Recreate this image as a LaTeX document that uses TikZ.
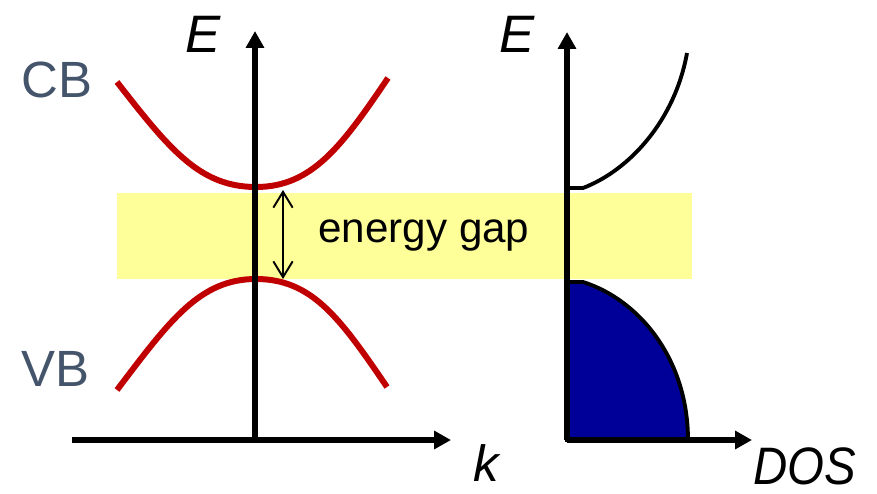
\documentclass[tikz,border=0pt]{standalone}
\usepackage{fontspec}
\setmainfont{Liberation Sans}
\usetikzlibrary{arrows.meta}
\definecolor{bandred}{HTML}{C00000}
\definecolor{gapyellow}{HTML}{FFFF99}
\definecolor{labelgrey}{HTML}{44546A}
\definecolor{dosblue}{HTML}{000099}
\begin{document}
\begin{tikzpicture}[
	x=0.02cm, y=-0.02cm,
	ax/.style = {line width=3.2pt, -{Triangle[length=9.6pt, width=10pt]}},
	band/.style = {line width=3.4pt, bandred},
	dos/.style = {line width=2.2pt, black},
	lab/.style = {font=\fontsize{30}{36}\selectfont\itshape, inner sep=0pt},
	bl/.style = {font=\fontsize{29}{34}\selectfont, text=labelgrey, inner sep=0pt}
	]
	\useasboundingbox (0,0) rectangle (877,494);
	
	%Gap
	\fill[gapyellow]	(117,193)	rectangle	(692,279);
	
	%Nodes
	\coordinate	(o1)	at	(255,440);
	\coordinate	(k0)	at	(72,440);
	\coordinate	(k1)	at	(451,440);
	\coordinate	(e1)	at	(255,31);
	\coordinate	(o2)	at	(567,440);
	\coordinate	(d1)	at	(752,440);
	\coordinate	(e2)	at	(567,32);
	\coordinate	(cbmin)	at	(256,187);
	\coordinate	(vbmax)	at	(256,279);
	\coordinate	(gt)	at	(283,190);
	\coordinate	(gb)	at	(283,279);
	
	\node[lab]	(E1)	at	(203,34)	{E};
	\node[lab]	(E2)	at	(517,34)	{E};
	\node[lab, font=\fontsize{29}{34}\selectfont\itshape]	(k)		at	(486,463)	{k};
	\node[lab, xscale=0.9]	(dos)	at	(805,466)	{DOS};
	\node[bl]	(cb)	at	(57,80)		{CB};
	\node[bl]	(vb)	at	(55,369)	{VB};
	\node[font=\fontsize{24}{28}\selectfont, inner sep=0pt]	(gap)	at	(424,236)	{energy gap};
	
	%Valence DOS
	\filldraw[dos, fill=dosblue]	(567,440)	--	(567,282)	--	(583,282)
		.. controls (640,300) and (688,360) ..	(688,440)	--	cycle;
	
	%Lines
	\draw[band]	(117,82)	.. controls (170,150) and (200,187) ..	(cbmin)
		.. controls (312,187) and (342,146) ..	(388,78);
	\draw[band]	(117,390)	.. controls (170,320) and (200,279) ..	(vbmax)
		.. controls (312,279) and (340,318) ..	(387,387);
	\draw[dos]	(567,188)	--	(583,188)
		.. controls (630,170) and (675,120) ..	(687,53);
	\draw[ax]	(o1)	--	(e1);
	\draw[ax]	(k0)	--	(k1);
	\draw[ax]	(o2)	--	(e2);
	\draw[ax]	(o2)	--	(d1);
	\draw[line width=1.1pt, {Straight Barb[length=9pt, width=11pt]}-{Straight Barb[length=9pt, width=11pt]}]	(gt)	--	(gb);
\end{tikzpicture}
\end{document}
